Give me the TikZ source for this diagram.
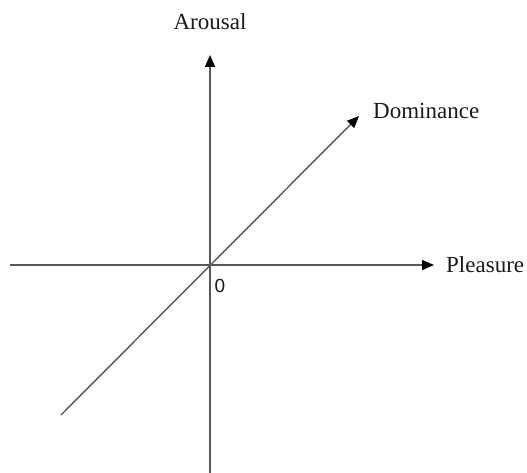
\documentclass[tikz,border=0pt]{standalone}
\usepackage{fontspec}
\setmainfont{Liberation Serif}
\newfontfamily\zerofont{Liberation Sans}
\usetikzlibrary{arrows.meta}
\definecolor{axisgray}{HTML}{585858}
\definecolor{labelink}{HTML}{1A1A1A}
\tikzset{
  axis/.style={draw=axisgray, line width=1.4pt},
  axisarrow/.style={axis, -{Triangle[length=12pt,width=10pt,fill=black,color=black]}},
  axislabel/.style={font=\fontsize{23}{26}\selectfont, text=labelink, inner sep=0pt},
  originlabel/.style={font=\zerofont\fontsize{19}{22}\selectfont, text=labelink, inner sep=0pt}
}
\begin{document}
\begin{tikzpicture}[x=1pt,y=-1pt]
\useasboundingbox (0,0) rectangle (527,473);
\coordinate (hl) at (10,265);
\coordinate (hr) at (434,265);
\coordinate (vb) at (210,473);
\coordinate (vt) at (210,55);
\coordinate (dl) at (61,415);
\coordinate (dt) at (359,116);
\draw[axisarrow] (hl) -- (hr);
\draw[axisarrow] (vb) -- (vt);
\draw[axisarrow] (dl) -- (dt);
\node[axislabel, anchor=base] (arousal) at (210,30) {Arousal};
\node[axislabel, anchor=base west] (dominance) at (373,119) {Dominance};
\node[axislabel, anchor=base west] (pleasure) at (446,272) {Pleasure};
\node[originlabel, anchor=base] (zero) at (220,292) {0};
\end{tikzpicture}
\end{document}
